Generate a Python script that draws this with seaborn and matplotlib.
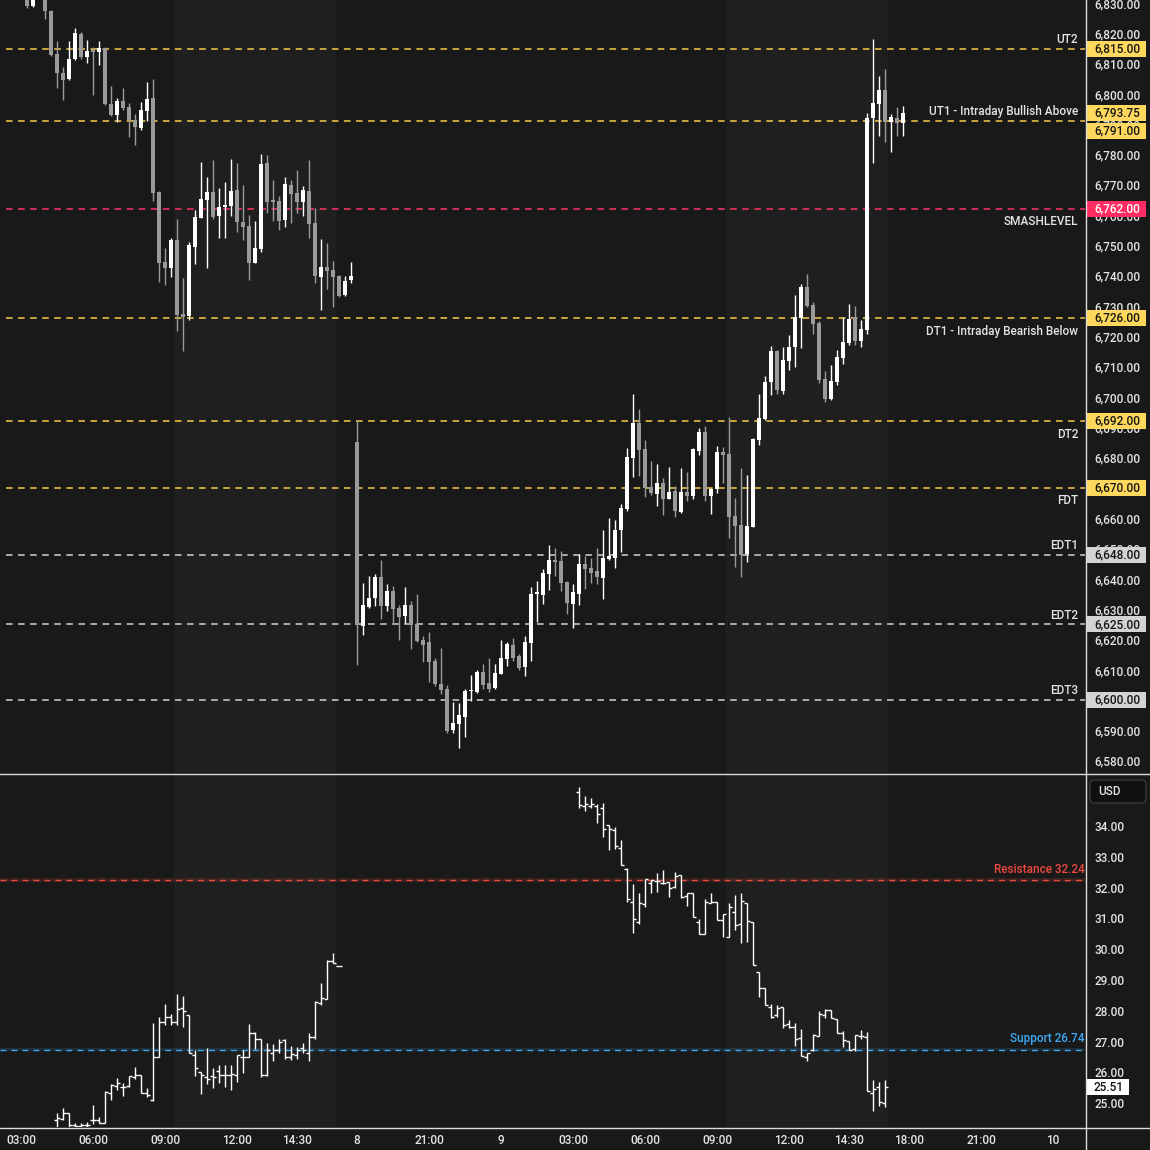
import numpy as np
import matplotlib
matplotlib.use('Agg')
import matplotlib.pyplot as plt
import matplotlib.transforms as mtransforms
from matplotlib.lines import Line2D
from matplotlib.patches import Rectangle, FancyBboxPatch
import seaborn as sns

# ---- ES 15 min candles (bar index 0 = 03:00, session break removed) ----
es_open = [6838, 6836, 6829, 6832.5, 6836, 6827.4, 6813.2, 6806.9, 6804.8, 6811.5,
           6819.8, 6812.2, 6814.3, 6813.8, 6815.2, 6796.7, 6793.1, 6797.7, 6795.7, 6791.4,
           6788.8, 6794.4, 6798.7, 6767.7, 6744.6, 6742.6, 6751.8, 6727.4, 6726.8, 6749.5,
           6759.1, 6765.0, 6767.7, 6759.7, 6762.7, 6763.1, 6768.3, 6757.8, 6756.5, 6744.2,
           6748.9, 6777.2, 6765.0, 6764.7, 6758.4, 6770.0, 6767.3, 6764.4, 6768.0, 6757.4,
           6739.6, 6742.9, 6742.0, 6740.0, 6733.7, 6738.6,
           6685.2, 6624.5, 6630.8, 6633.8, 6640.7, 6631.1, 6636.1, 6630.5, 6627.8, 6631.4,
           6625.2, 6619.9, 6619.2, 6613.0, 6605.4, 6603.7, 6590.2, 6592.2, 6594.5, 6603.0,
           6602.8, 6609.4, 6605.7, 6604.1, 6608.7, 6613.6, 6618.3, 6614.6, 6611.0, 6618.9,
           6635.2, 6634.8, 6641.7, 6646.3, 6646.0, 6639.0, 6631.8, 6635.1, 6645.0, 6643.6,
           6642.7, 6640.4, 6646.6, 6647.0, 6656.2, 6663.1, 6680.0, 6691.5, 6682.9, 6670.4,
           6668.1, 6671.7, 6666.4, 6669.1, 6662.1, 6668.7, 6667.4, 6682.2, 6688.5, 6667.4,
           6669.7, 6681.9, 6681.2, 6660.8, 6657.8, 6648.3, 6657.2, 6685.9, 6692.8, 6705.0,
           6715.2, 6702.0, 6711.9, 6716.5, 6726.1, 6736.3, 6730.4, 6724.5, 6706.0, 6699.4,
           6705.0, 6712.9, 6717.9, 6726.4, 6718.5, 6722.2, 6792.1, 6796.7, 6801.3, 6790.8,
           6792.1, 6790.4]
es_high = [6840, 6836.5, 6833, 6838, 6837, 6827.7, 6817.5, 6808.9, 6817.5, 6821.8,
           6820.4, 6817.8, 6815.5, 6817.5, 6815.5, 6802.6, 6798.7, 6802.0, 6797.0, 6793.4,
           6797.4, 6803.9, 6804.9, 6768.0, 6749.2, 6752.4, 6758.8, 6739.3, 6751.2, 6761.7,
           6777.6, 6772.6, 6778.2, 6769.0, 6771.0, 6778.6, 6777.2, 6770.0, 6760.1, 6758.1,
           6780.2, 6779.9, 6771.6, 6766.4, 6772.6, 6771.6, 6774.9, 6769.6, 6778.2, 6762.4,
           6752.2, 6750.9, 6744.9, 6740.3, 6740.0, 6744.6,
           6692.5, 6638.7, 6641.0, 6641.7, 6646.3, 6638.4, 6637.7, 6631.4, 6637.4, 6632.8,
           6635.1, 6621.2, 6622.6, 6614.0, 6617.3, 6605.1, 6599.5, 6599.1, 6603.7, 6608.4,
           6610.0, 6612.0, 6614.0, 6612.0, 6619.9, 6619.2, 6620.6, 6615.3, 6621.2, 6637.4,
           6639.4, 6643.3, 6651.2, 6650.3, 6649.3, 6639.3, 6638.4, 6648.3, 6647.6, 6647.0,
           6650.3, 6656.2, 6660.1, 6659.5, 6664.8, 6683.2, 6701.0, 6696.1, 6685.9, 6678.9,
           6678.0, 6673.3, 6677.0, 6670.7, 6676.6, 6675.3, 6683.2, 6689.8, 6690.5, 6670.0,
           6683.9, 6683.6, 6693.5, 6666.7, 6676.6, 6674.3, 6686.5, 6701.0, 6707.0, 6716.9,
           6715.6, 6716.5, 6720.5, 6733.7, 6737.3, 6740.6, 6731.4, 6725.0, 6708.6, 6710.6,
           6715.6, 6726.4, 6730.7, 6730.0, 6725.5, 6793.7, 6818.1, 6805.9, 6808.2, 6793.4,
           6795.7, 6796.0]
es_low = [6834, 6828.5, 6828.7, 6832, 6824.7, 6812.5, 6802.0, 6798.0, 6804.6, 6811.2,
          6811.5, 6810.2, 6799.7, 6809.6, 6796.4, 6792.7, 6790.8, 6794.7, 6785.8, 6783.2,
          6788.1, 6791.1, 6764.7, 6738.0, 6737.0, 6739.6, 6721.8, 6715.2, 6725.5, 6743.9,
          6759.1, 6742.6, 6758.8, 6752.5, 6752.5, 6759.7, 6754.5, 6751.8, 6738.6, 6744.2,
          6747.9, 6760.7, 6758.1, 6755.1, 6756.1, 6757.4, 6760.7, 6759.8, 6752.5, 6737.7,
          6728.8, 6735.7, 6729.7, 6733.0, 6733.4, 6737.7,
          6611.7, 6621.6, 6630.5, 6631.1, 6626.8, 6629.5, 6625.2, 6619.9, 6625.5, 6616.9,
          6619.2, 6612.6, 6606.1, 6604.7, 6602.0, 6589.2, 6589.2, 6584.3, 6587.9, 6599.8,
          6602.4, 6603.7, 6602.8, 6603.7, 6608.7, 6611.3, 6613.0, 6610.0, 6608.0, 6613.0,
          6625.8, 6631.8, 6636.4, 6641.0, 6636.1, 6628.5, 6623.9, 6631.4, 6636.7, 6638.7,
          6638.4, 6633.4, 6646.3, 6643.6, 6648.9, 6662.5, 6673.7, 6674.0, 6667.1, 6667.7,
          6664.1, 6661.1, 6666.4, 6660.5, 6661.8, 6665.7, 6666.4, 6680.9, 6665.7, 6661.5,
          6668.4, 6671.7, 6653.5, 6644.0, 6640.7, 6645.6, 6657.0, 6684.2, 6692.5, 6700.7,
          6701.0, 6701.0, 6709.0, 6710.0, 6716.2, 6729.7, 6720.8, 6704.7, 6698.4, 6699.1,
          6704.0, 6711.0, 6717.2, 6717.2, 6716.5, 6720.8, 6777.2, 6786.1, 6784.2, 6780.9,
          6786.1, 6786.1]
es_close = [6836, 6829, 6832.5, 6836, 6827.4, 6812.9, 6806.9, 6804.6, 6811.5, 6820.1,
            6812.2, 6814.2, 6814.0, 6815.2, 6796.7, 6793.1, 6797.7, 6795.4, 6791.4, 6789.1,
            6794.7, 6798.3, 6767.3, 6744.2, 6742.6, 6751.8, 6727.1, 6726.4, 6750.2, 6759.4,
            6765.4, 6767.7, 6759.4, 6762.7, 6763.4, 6768.0, 6757.8, 6756.1, 6744.2, 6749.2,
            6776.9, 6764.4, 6764.4, 6758.1, 6770.3, 6767.0, 6764.4, 6768.3, 6757.1, 6740.0,
            6742.9, 6741.6, 6739.6, 6733.4, 6738.3, 6740.0,
            6624.9, 6631.4, 6633.8, 6640.7, 6631.1, 6636.1, 6630.1, 6627.5, 6631.4, 6624.9,
            6619.6, 6618.3, 6612.6, 6605.4, 6603.4, 6589.9, 6592.5, 6595.2, 6603.1, 6603.3,
            6609.4, 6605.1, 6603.7, 6609.0, 6614.0, 6618.6, 6614.0, 6610.7, 6619.2, 6635.1,
            6635.5, 6642.0, 6646.3, 6645.6, 6638.7, 6632.1, 6635.7, 6645.0, 6643.3, 6642.0,
            6640.7, 6647.0, 6647.6, 6656.2, 6663.4, 6680.3, 6691.5, 6682.6, 6670.0, 6668.4,
            6671.7, 6666.4, 6668.7, 6662.5, 6668.7, 6667.4, 6682.9, 6688.5, 6667.4, 6669.7,
            6681.9, 6680.9, 6660.5, 6657.5, 6648.0, 6657.5, 6686.2, 6693.1, 6705.0, 6715.2,
            6702.4, 6712.3, 6716.5, 6726.4, 6736.3, 6730.0, 6724.1, 6705.7, 6699.4, 6705.3,
            6713.3, 6718.2, 6725.8, 6718.5, 6722.5, 6792.1, 6797.0, 6801.3, 6790.8, 6792.4,
            6790.4, 6793.75]

# ---- VIX bars (two sessions) ----
vix_starts = [6, 93]
vix_open = [24.45, 24.50, 24.67, 24.30, 24.25, 24.30, 24.45, 24.45, 24.37, 25.34,
            25.55, 25.54, 25.56, 25.86, 25.93, 25.34, 25.10, 26.51, 27.65, 27.80,
            27.65, 28.08, 27.86, 26.56, 26.02, 25.86, 25.88, 26.05, 25.92, 25.92,
            25.92, 26.49, 26.49, 27.29, 27.07, 25.92, 26.64, 26.73, 27.05, 26.49,
            26.56, 26.78, 26.62, 27.16, 28.26, 28.37, 29.63, 29.45,
            35.09, 34.65, 34.65, 34.65, 34.57, 34.03, 33.87, 33.28, 32.59, 31.54,
            30.89, 31.47, 32.14, 32.23, 32.14, 32.19, 32.01, 32.40, 31.73, 31.81,
            30.90, 30.49, 31.49, 31.54, 30.95, 30.39, 31.22, 30.82, 31.49, 30.89,
            29.25, 28.73, 28.11, 27.86, 28.11, 27.57, 27.46, 27.11, 26.51, 26.73,
            27.19, 27.85, 28.03, 27.72, 27.27, 27.02, 26.75, 27.18, 27.16, 25.32,
            25.51, 25.00]
vix_high = [24.67, 24.86, 24.68, 24.35, 24.35, 24.40, 24.94, 24.56, 25.40, 25.62,
            25.82, 25.67, 25.88, 26.17, 25.93, 25.48, 27.62, 27.81, 28.22, 27.90,
            28.55, 28.48, 27.86, 26.73, 26.02, 26.78, 26.13, 26.24, 26.24, 26.24,
            26.56, 26.73, 27.57, 27.32, 27.07, 26.94, 26.92, 27.07, 27.07, 26.86,
            26.81, 26.94, 27.29, 28.33, 28.89, 29.65, 29.89, 29.45,
            35.28, 34.97, 34.90, 34.72, 34.76, 34.03, 33.98, 33.55, 32.63, 32.12,
            31.81, 32.27, 32.25, 32.46, 32.57, 32.19, 32.51, 32.40, 31.84, 31.81,
            30.97, 31.62, 31.81, 31.54, 31.16, 31.49, 31.76, 31.81, 31.49, 30.89,
            29.25, 28.73, 28.22, 28.19, 28.11, 27.70, 27.59, 27.40, 26.62, 27.24,
            27.99, 28.06, 28.03, 27.72, 27.34, 27.02, 27.22, 27.38, 27.30, 25.75,
            25.70, 25.75]
vix_low = [24.20, 24.45, 24.20, 24.10, 24.10, 24.15, 24.34, 24.36, 24.37, 25.12,
           25.43, 25.23, 25.54, 25.80, 25.34, 25.19, 25.08, 26.51, 27.54, 27.54,
           27.54, 27.49, 26.62, 25.88, 25.30, 25.62, 25.48, 25.64, 25.54, 25.43,
           25.70, 25.99, 26.49, 26.75, 25.86, 25.88, 26.38, 26.64, 26.45, 26.40,
           26.42, 26.64, 26.38, 27.10, 28.19, 28.37, 29.54, 29.45,
           34.57, 34.50, 34.57, 34.11, 33.63, 33.22, 33.24, 32.72, 31.54, 30.54,
           30.82, 31.38, 31.81, 31.87, 32.12, 31.71, 31.98, 31.65, 31.40, 31.06,
           30.49, 30.49, 31.49, 30.95, 30.39, 30.39, 30.64, 30.19, 30.25, 29.48,
           28.46, 28.19, 27.76, 27.81, 27.43, 27.43, 26.87, 26.54, 26.38, 26.71,
           27.19, 27.76, 27.76, 27.27, 26.81, 26.73, 26.71, 27.07, 25.41, 24.76,
           24.92, 24.89]
vix_close = [24.51, 24.67, 24.30, 24.25, 24.30, 24.30, 24.45, 24.37, 25.37, 25.59,
             25.64, 25.54, 25.88, 25.93, 25.34, 25.27, 26.51, 27.65, 27.81, 27.65,
             28.05, 28.00, 26.62, 26.13, 25.92, 25.77, 25.84, 25.92, 25.92, 25.95,
             26.56, 26.49, 27.29, 27.07, 25.92, 26.73, 26.73, 26.99, 26.49, 26.60,
             26.73, 26.73, 27.16, 28.30, 28.40, 29.63, 29.54, 29.45,
             34.68, 34.72, 34.72, 34.39, 33.90, 33.90, 33.35, 32.72, 31.62, 30.97,
             31.51, 32.27, 32.25, 32.23, 32.16, 31.98, 32.38, 31.71, 31.81, 31.06,
             30.49, 31.53, 31.54, 30.95, 31.16, 31.36, 30.80, 31.57, 30.93, 29.48,
             28.73, 28.19, 27.81, 28.08, 27.54, 27.49, 27.07, 26.54, 26.62, 27.21,
             27.89, 28.03, 27.76, 27.29, 27.05, 26.73, 27.22, 27.18, 25.41, 25.45,
             25.05, 25.51]
vix_lengths = [48, 52]

# ---- levels ----
level_values = [6815, 6791, 6762, 6726, 6692, 6670, 6648, 6625, 6600]
level_names = ['UT2', 'UT1 - Intraday Bullish Above', 'SMASHLEVEL', 'DT1 - Intraday Bearish Below',
               'DT2', 'FDT', 'EDT1', 'EDT2', 'EDT3']
level_kinds = ['up', 'up', 'smash', 'up', 'up', 'up', 'low', 'low', 'low']
level_label_side = ['above', 'above', 'below', 'below', 'below', 'below', 'above', 'above', 'above']
last_price = 6793.75
resistance = 32.24
support = 26.74
vix_last = 25.51

tick_pos = [0, 12, 24, 36, 46, 56, 68, 80, 92, 104, 116, 128, 138, 148, 160, 172]
tick_lab = ['03:00', '06:00', '09:00', '12:00', '14:30', '8', '21:00', '9', '03:00',
            '06:00', '09:00', '12:00', '14:30', '18:00', '21:00', '10']
rth_spans = [(25.5, 52.5), (117.5, 144.5)]

# ---- style ----
sns.set_theme(style='dark', rc={'axes.grid': False})
plt.rcParams['font.family'] = ['Roboto', 'DejaVu Sans']
BG = '#191919'
BAND = '#1f1f1f'
TXT = '#e4e4e4'
UPC = '#ffffff'
DNC = '#9a9a9a'
kind_col = {'up': '#f7cd48', 'smash': '#ff3366', 'low': '#d2d2d2'}
tag_col = {'up': ('#fdd85d', '#141414'), 'smash': ('#ff2d62', '#ffffff'), 'low': ('#d3d3d3', '#141414')}
FW = 'medium'

W = H = 1150
fig = plt.figure(figsize=(11.5, 11.5), dpi=100, facecolor=BG)
ax = fig.add_axes([0, 1 - 773 / H, 1085 / W, 773 / H])
ax2 = fig.add_axes([0, 1 - 1127 / H, 1085 / W, 353 / H])

xmin, xmax = -3.5, 177.33
for a in (ax, ax2):
    a.set_facecolor(BG)
    a.set_xlim(xmin, xmax)
    for s in a.spines.values():
        s.set_visible(False)
    for x0, x1 in rth_spans:
        a.axvspan(x0, x1, color=BAND, zorder=0, lw=0)
    a.yaxis.tick_right()
    a.tick_params(axis='y', length=0, pad=6.5, labelsize=8.5, labelcolor=TXT)
ax.set_ylim(6576.0, 6831.0)
ax2.set_ylim(24.227, 35.69)

# candles
o = np.array(es_open); h = np.array(es_high); l = np.array(es_low); c = np.array(es_close)
n = np.arange(len(o))
cols = np.where(c >= o, UPC, DNC)
ax.vlines(n, l, h, colors=cols, lw=1.0, zorder=3)
ax.bar(n, np.maximum(np.abs(c - o), 0.35), bottom=np.minimum(o, c), width=0.8,
       color=cols, linewidth=0, zorder=3)

# levels
dash = (0, (4.3, 3.6))
trans_tag = mtransforms.blended_transform_factory(ax.transAxes, ax.transData)
tag_nudge = {6791: -3.3}
for v, name, kind, side in zip(level_values, level_names, level_kinds, level_label_side):
    ax.hlines(v, -2.5, xmax, colors=kind_col[kind], linestyles=dash, lw=1.1, zorder=2)
    dy = 2 if side == 'above' else -4.5
    ax.annotate(name, xy=(176.2, v), xytext=(0, dy), textcoords='offset points',
                ha='right', va='bottom' if side == 'above' else 'top',
                fontsize=8.5, fontweight=FW, color=TXT, zorder=4)

# price tags on the right scale
def price_tag(a, trans, y, text, fc, tc, px_per_unit, width_px=60):
    hh = 16 / px_per_unit
    a.add_patch(Rectangle((1 + 1 / 1085, y - hh / 2), width_px / 1085, hh, transform=trans,
                          facecolor=fc, edgecolor='none', clip_on=False, zorder=6))
    a.text(1 + 9 / 1085, y, text, transform=trans, ha='left', va='center',
           fontsize=8.5, fontweight=FW, color=tc, clip_on=False, zorder=7)

for v, kind in zip(level_values, level_kinds):
    fc, tc = tag_col[kind]
    price_tag(ax, trans_tag, v + tag_nudge.get(v, 0), f'{v:,.2f}', fc, tc, 3.032)
price_tag(ax, trans_tag, last_price, f'{last_price:,.2f}', '#fdd85d', '#141414', 3.032)

ax.set_yticks(np.arange(6580, 6831, 10))
ax.set_yticklabels([f'{v:,.2f}' for v in np.arange(6580, 6831, 10)], fontweight=FW)
ax.set_xticks([])

# VIX OHLC bars
vo = np.array(vix_open); vh = np.array(vix_high); vl = np.array(vix_low); vc = np.array(vix_close)
vn = np.concatenate([np.arange(s, s + k) for s, k in zip(vix_starts, vix_lengths)])
ax2.vlines(vn, vl, vh, colors='#ffffff', lw=1.0, zorder=3)
ax2.hlines(vo, vn - 0.42, vn, colors='#ffffff', lw=1.0, zorder=3)
ax2.hlines(vc, vn, vn + 0.42, colors='#ffffff', lw=1.0, zorder=3)

for v, col, name in [(resistance, '#ec4a3f', 'Resistance'), (support, '#3fa9f5', 'Support')]:
    ax2.axhspan(v - 0.06, v + 0.06, color=col, alpha=0.15, lw=0, zorder=1)
    ax2.hlines(v, xmin, xmax, colors=col, linestyles=dash, lw=1.0, zorder=2)
    ax2.annotate(f'{name} {v:.2f}', xy=(xmax - 0.1, v), xytext=(0, 3), textcoords='offset points',
                 ha='right', va='bottom', fontsize=8.5, fontweight=FW, color=col, zorder=4)

trans_tag2 = mtransforms.blended_transform_factory(ax2.transAxes, ax2.transData)
price_tag(ax2, trans_tag2, vix_last, f'{vix_last:.2f}', '#ffffff', '#111111', 30.8, width_px=43)

ax2.set_yticks(np.arange(25, 35))
ax2.set_yticklabels([f'{v:.2f}' for v in np.arange(25, 35)], fontweight=FW)
ax2.set_xticks(tick_pos)
ax2.set_xticklabels(tick_lab, fontweight=FW)
ax2.tick_params(axis='x', length=0, pad=5, labelsize=8.5, labelcolor=TXT)

# USD box
fig.add_artist(FancyBboxPatch((1090 / W, 1 - 803 / H), 56 / W, 23 / H,
                              boxstyle='round,pad=0,rounding_size=0.004',
                              transform=fig.transFigure, facecolor='#101010',
                              edgecolor='#3a3a3a', lw=1.0))
fig.text(1098 / W, 1 - 791.5 / H, 'USD', ha='left', va='center', fontsize=8.5,
         fontweight=FW, color=TXT)

# pane separators
sep = '#dcdcdc'
fig.add_artist(Line2D([1085.5 / W] * 2, [0, 1], transform=fig.transFigure, color=sep, lw=1.0))
fig.add_artist(Line2D([0, 1], [1 - 773.5 / H] * 2, transform=fig.transFigure, color=sep, lw=1.0))
fig.add_artist(Line2D([0, 1], [1 - 1127.5 / H] * 2, transform=fig.transFigure, color=sep, lw=1.0))

fig.savefig('out.png', dpi=100, facecolor=BG)
